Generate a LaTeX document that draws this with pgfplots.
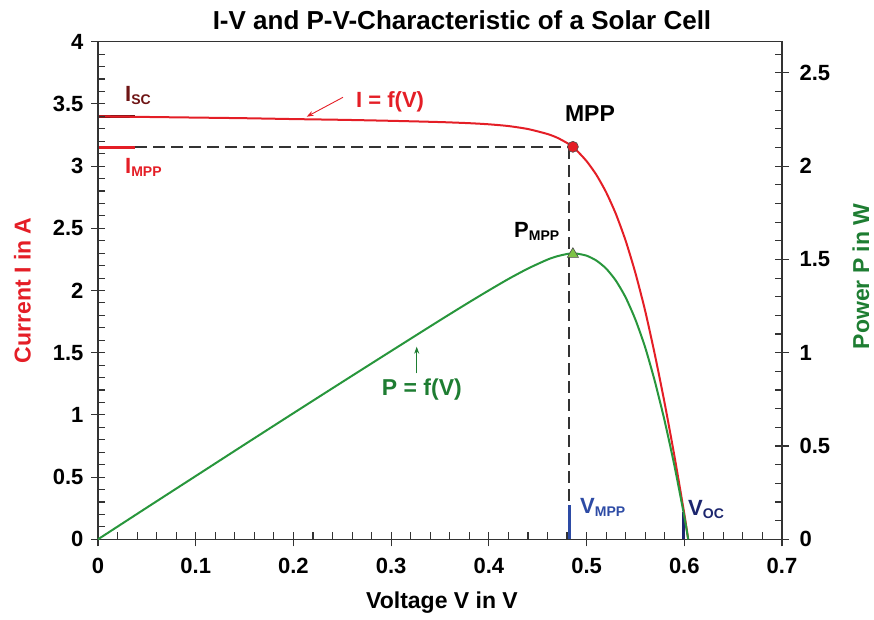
\documentclass[border=0pt]{standalone}
\usepackage{pgfplots}
\pgfplotsset{compat=1.18}
\usepackage{pgfplotstable}
\usepackage{fontspec}
\setmainfont{Liberation Sans}
\usetikzlibrary{arrows.meta}
\definecolor{cred}{RGB}{228,30,38}
\definecolor{cdred}{RGB}{110,20,20}
\definecolor{cgreen}{RGB}{40,150,60}
\definecolor{cdgreen}{RGB}{30,125,50}
\definecolor{cblue}{RGB}{45,75,165}
\definecolor{cnavy}{RGB}{28,38,110}
\definecolor{ctri}{RGB}{125,195,70}

\pgfplotstableread{
V I
0.000 3.400
0.050 3.395
0.100 3.390
0.150 3.385
0.200 3.378
0.250 3.372
0.300 3.364
0.350 3.354
0.380 3.345
0.400 3.336
0.420 3.322
0.440 3.298
0.460 3.258
0.470 3.228
0.480 3.186
0.485 3.158
0.490 3.125
0.500 3.040
0.510 2.930
0.520 2.790
0.530 2.615
0.540 2.400
0.550 2.140
0.560 1.835
0.570 1.480
0.580 1.090
0.590 0.665
0.600 0.205
0.604 0.000
}\ivdata

\pgfplotstableread{
V P
0.000 0.000
0.050 0.170
0.100 0.339
0.150 0.508
0.200 0.676
0.250 0.843
0.300 1.009
0.350 1.174
0.380 1.271
0.400 1.334
0.420 1.395
0.440 1.451
0.460 1.499
0.470 1.517
0.480 1.529
0.485 1.532
0.490 1.531
0.500 1.520
0.510 1.494
0.520 1.451
0.530 1.386
0.540 1.296
0.550 1.177
0.560 1.028
0.570 0.844
0.580 0.632
0.590 0.392
0.600 0.123
0.604 0.000
}\pvdata

\newcommand{\fs}[1]{\fontsize{#1}{#1}\selectfont\bfseries}
\newcommand{\sub}[1]{\raisebox{-3pt}{\fs{14}#1}}

\begin{document}
\begin{tikzpicture}
\useasboundingbox (-98pt,-79.7pt) rectangle (776pt,539.3pt);
\pgfplotsset{base/.style={at={(0pt,0pt)},anchor=south west,scale only axis,
  width=684pt,height=497.6pt,xmin=0,xmax=0.7,
  axis line style={line width=1.1pt,black!80},
  tick style={line width=1.1pt,black!80},
  /pgf/number format/assume math mode=true,
  /pgf/number format/fixed,
  tick label style={font=\fs{22}},
  clip=false}}

% main axis (current)
\begin{axis}[base, ymin=0, ymax=4,
  xtick={0,0.1,0.2,0.3,0.4,0.5,0.6,0.7},
  ytick={0,0.5,1,1.5,2,2.5,3,3.5,4},
  xtick pos=bottom, ytick pos=left,
  tick align=center, major tick length=14pt, minor tick num=0,
  xticklabel style={yshift=-8pt},
  yticklabel style={xshift=-4pt}]
  \addplot[black!80, line width=2pt, dash pattern=on 12pt off 6pt] coordinates {(0.038,3.15) (0.486,3.15)};
  \addplot[black!80, line width=2pt, dash pattern=on 12pt off 6pt] coordinates {(0.4825,3.15) (0.4825,0.276)};
  \addplot[cdred, line width=3.2pt] coordinates {(0,3.397) (0.038,3.397)};
  \addplot[cred, line width=3.2pt] coordinates {(0,3.147) (0.038,3.147)};
  \addplot[cblue, line width=3pt] coordinates {(0.4825,0) (0.4825,0.276)};
  \addplot[cnavy, line width=3.5pt] coordinates {(0.599,0) (0.599,0.222)};
  \addplot[cred, line width=2pt, smooth, tension=0.4] table[x=V,y=I] {\ivdata};
  \addplot[only marks, mark=*, mark size=5.5pt, mark options={fill=cred, draw=black!70, line width=0.6pt}] coordinates {(0.486,3.155)};
\end{axis}

% minor ticks for main axis
\begin{axis}[base, ymin=0, ymax=4,
  xtick={0,0.1,0.2,0.3,0.4,0.5,0.6,0.7},
  ytick={0,0.5,1,1.5,2,2.5,3,3.5,4},
  xticklabels={}, yticklabels={},
  xtick pos=bottom, ytick pos=left,
  major tick length=0pt, minor tick num=4, minor tick length=7pt, tick align=inside]
\end{axis}

% right axis (power)
\begin{axis}[base, ymin=0, ymax=2.6667,
  axis y line*=right, axis x line=none,
  ytick={0,0.5,1,1.5,2,2.5},
  tick align=center, major tick length=14pt, minor tick num=0,
  yticklabel style={xshift=7pt}]
  \addplot[cgreen, line width=2pt, smooth, tension=0.4] table[x=V,y=P] {\pvdata};
  \addplot[only marks, mark=triangle*, mark size=6.5pt, mark options={fill=ctri, draw=black!70, line width=0.6pt}] coordinates {(0.486,1.528)};
\end{axis}

% right minor ticks
\begin{axis}[base, ymin=0, ymax=2.6667,
  axis y line*=right, axis x line=none,
  ytick={0,0.5,1,1.5,2,2.5}, yticklabels={},
  minor ytick={0.1,0.2,0.3,0.4,0.6,0.7,0.8,0.9,1.1,1.2,1.3,1.4,1.6,1.7,1.8,1.9,2.1,2.2,2.3,2.4,2.6},
  major tick length=0pt, minor tick length=7pt, tick align=inside]
\end{axis}

% texts
\node[anchor=base, font=\fs{26}] at (364pt,510pt) {I-V and P-V-Characteristic of a Solar Cell};
\node[anchor=base, font=\fs{23}] at (344pt,-69pt) {Voltage V in V};
\node[rotate=90, font=\fs{23}, text=cred] at (-75.5pt,249pt) {Current I in A};
\node[rotate=90, font=\fs{23}, text=cdgreen] at (763pt,263pt) {Power P in W};

\node[anchor=base west, inner sep=0pt, font=\fs{22}, text=cred] at (258pt,432pt) {I = f(V)};
\draw[cred, line width=0.9pt, -{Stealth[length=7pt,width=5pt]}] (245pt,442pt) -- (208.7pt,422.6pt);
\node[anchor=base west, inner sep=0pt, font=\fs{23}, text=cdgreen] at (283.7pt,144.3pt) {P = f(V)};
\draw[cdgreen, line width=0.9pt, -{Stealth[length=7pt,width=5pt]}] (318.7pt,166pt) -- (318.7pt,192.6pt);

\node[anchor=base, inner sep=0pt, font=\fs{23}] at (492pt,417.6pt) {MPP};
\node[anchor=base west, inner sep=0pt, font=\fs{22}] at (416pt,302pt) {P\sub{MPP}};
\node[anchor=base west, inner sep=0pt, font=\fs{22}, text=cdred] at (27pt,437.6pt) {I\sub{SC}};
\node[anchor=base west, inner sep=0pt, font=\fs{22}, text=cred] at (27pt,366pt) {I\sub{MPP}};
\node[anchor=base west, inner sep=0pt, font=\fs{22}, text=cblue] at (482pt,26pt) {V\sub{MPP}};
\node[anchor=base west, inner sep=0pt, font=\fs{22}, text=cnavy] at (590pt,24.3pt) {V\sub{OC}};
\end{tikzpicture}
\end{document}
